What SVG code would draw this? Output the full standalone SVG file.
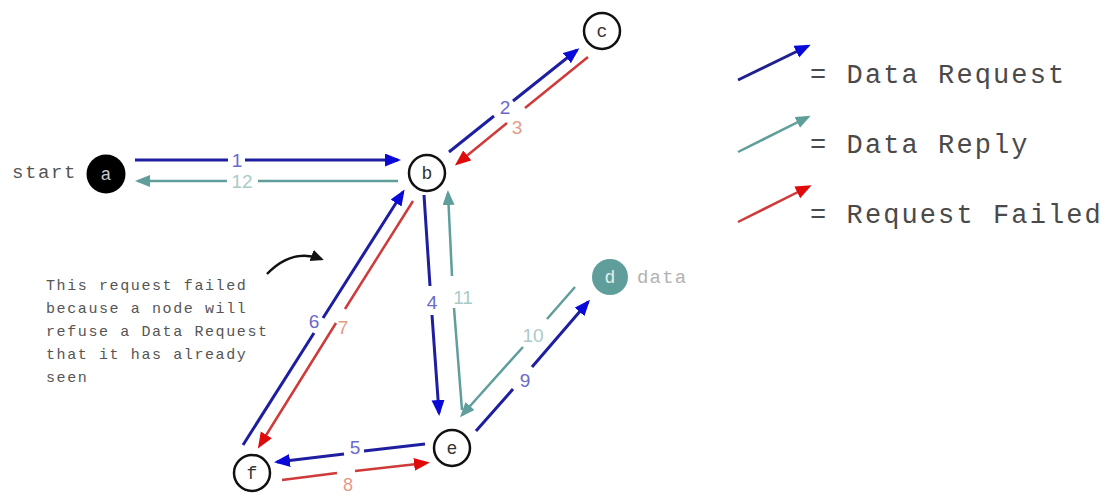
<svg xmlns="http://www.w3.org/2000/svg" width="1117" height="495" viewBox="0 0 1117 495">
<style>
.mono{font-family:"Liberation Mono","DejaVu Sans Mono",monospace}
.node{fill:#fff;stroke:#111;stroke-width:2.5}
.nl{font-family:"Liberation Mono",monospace;font-size:18px;fill:#333;text-anchor:middle}
.req{fill:none;stroke:#1e1ea0;stroke-width:3}
.rep{fill:none;stroke:#5f9e9b;stroke-width:2.5}
.fail{fill:none;stroke:#cf3a3a;stroke-width:2.5}
.lab{font-family:"Liberation Sans",Arial,sans-serif;font-size:19px;text-anchor:middle}
.lreq{fill:#6a6acc}
.lrep{fill:#a9cbc9}
.lfail{fill:#e49a88}
.leg{font-family:"Liberation Mono",monospace;font-size:27px;letter-spacing:2.1px;fill:#4a4a4a}
.note{font-family:"Liberation Mono",monospace;font-size:15px;letter-spacing:1.6px;fill:#555}
</style>
<defs>
<marker id="hb" markerUnits="userSpaceOnUse" markerWidth="18" markerHeight="14" refX="13" refY="6.5" orient="auto"><path d="M0,0 L16,6.5 L0,13 z" fill="#0a0ad8"/></marker>
<marker id="ht" markerUnits="userSpaceOnUse" markerWidth="18" markerHeight="14" refX="12" refY="6" orient="auto"><path d="M0,0 L15,6 L0,12 z" fill="#5f9e9b"/></marker>
<marker id="hr" markerUnits="userSpaceOnUse" markerWidth="18" markerHeight="14" refX="12" refY="6.5" orient="auto"><path d="M0,0 L16,6.5 L0,13 z" fill="#e00a0a"/></marker>
<marker id="hk" markerUnits="userSpaceOnUse" markerWidth="16" markerHeight="14" refX="10" refY="6" orient="auto"><path d="M0,0 L13,6 L0,12 z" fill="#111"/></marker>
</defs>

<g id="connectors">
<path class="req" d="M135,160 L228,160 M245,160 L398,160" marker-end="url(#hb)"/>
<path class="rep" d="M398,181 L258,181 M227,181 L138,181" marker-end="url(#ht)"/>
<path class="req" d="M449,152 L494,116 M513,101 L577,50" marker-end="url(#hb)"/>
<path class="fail" d="M588,57 L525,108 M507,123 L458,163" marker-end="url(#hr)"/>
<path class="req" d="M424,195 L430,286 M432,315 L439,413" marker-end="url(#hb)"/>
<path class="rep" d="M462,410 L454,308 M452,276 L448,193" marker-end="url(#ht)"/>
<path class="req" d="M425,444 L364,451 M344,454 L277,462" marker-end="url(#hb)"/>
<path class="fail" d="M282,480 L337,473 M355,471 L426,463" marker-end="url(#hr)"/>
<path class="req" d="M243,445 L314,333 M323,318 L403,192" marker-end="url(#hb)"/>
<path class="fail" d="M413,201 L345,309 M336,323 L260,445" marker-end="url(#hr)"/>
<path class="req" d="M476,431 L513,389 M532,367 L588,302" marker-end="url(#hb)"/>
<path class="rep" d="M575,287 L547,319 M523,347 L462,415" marker-end="url(#ht)"/>
<path d="M267,274 Q292,248 321,259" fill="none" stroke="#111" stroke-width="2.5" marker-end="url(#hk)"/>
<text class="lab lreq" x="237" y="167">1</text>
<text class="lab lrep" x="242" y="188">12</text>
<text class="lab lreq" x="505" y="114">2</text>
<text class="lab lfail" x="517" y="134">3</text>
<text class="lab lreq" x="432" y="309">4</text>
<text class="lab lrep" x="463" y="304">11</text>
<text class="lab lreq" x="355" y="454">5</text>
<text class="lab lfail" x="348" y="491" style="font-size:18px">8</text>
<text class="lab lreq" x="314" y="328">6</text>
<text class="lab lfail" x="343" y="334">7</text>
<text class="lab lreq" x="525" y="387">9</text>
<text class="lab lrep" x="533" y="342">10</text>
</g>

<g id="node-a">
<circle cx="106" cy="174" r="19.5" fill="#000"/>
<text class="nl" x="106" y="180" style="fill:#c8c8c8">a</text>
<text class="mono" x="12" y="178" font-size="19" letter-spacing="1.6" fill="#555">start</text>
</g>
<g id="node-b"><circle class="node" cx="427" cy="173" r="18"/><text class="nl" x="427" y="179">b</text></g>
<g id="node-c"><circle class="node" cx="602" cy="31" r="18"/><text class="nl" x="602" y="37">c</text></g>
<g id="node-d">
<circle cx="610" cy="277" r="18" fill="#5f9e9b"/>
<text class="nl" x="610" y="283" style="fill:#e2f0ef">d</text>
<text class="mono" x="637" y="283" font-size="19" letter-spacing="1.2" fill="#b2b2b2">data</text>
</g>
<g id="node-e"><circle class="node" cx="452" cy="448" r="18"/><text class="nl" x="452" y="454">e</text></g>
<g id="node-f"><circle class="node" cx="252" cy="473" r="18"/><text class="nl" x="252" y="479">f</text></g>

<g id="note">
<text class="note" x="46" y="290">This request failed</text>
<text class="note" x="46" y="313">because a node will</text>
<text class="note" x="46" y="336">refuse a Data Request</text>
<text class="note" x="46" y="359">that it has already</text>
<text class="note" x="46" y="382">seen</text>
</g>

<g id="legend">
<line x1="738" y1="80" x2="808" y2="46" stroke="#202090" stroke-width="3" marker-end="url(#hb)"/>
<line x1="738" y1="152" x2="808" y2="117" stroke="#5f9e9b" stroke-width="2.5" marker-end="url(#ht)"/>
<line x1="738" y1="222" x2="808" y2="187" stroke="#cf3a3a" stroke-width="2.5" marker-end="url(#hr)"/>
<text class="leg" x="810" y="83">= Data Request</text>
<text class="leg" x="810" y="153">= Data Reply</text>
<text class="leg" x="810" y="223">= Request Failed</text>
</g>
</svg>
